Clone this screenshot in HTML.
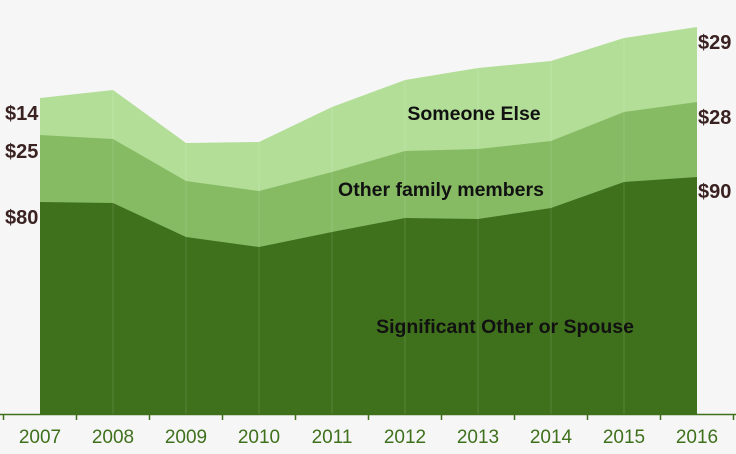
<!DOCTYPE html>
<html><head><style>
body{margin:0;background:#f6f6f6;}
svg{display:block;font-family:"Liberation Sans",sans-serif;}
</style></head><body>
<svg width="736" height="454" viewBox="0 0 736 454">
<rect width="736" height="454" fill="#f6f6f6"/>
<polygon fill="#b3de98" points="40,98 113,90 186,143 259,142 332,107 405,80 478,68 551,61 624,38 697,27 697,414 40,414"/>
<polygon fill="#86bb64" points="40,135 113,139 186,181 259,191 332,172 405,151 478,149 551,141 624,112 697,102 697,414 40,414"/>
<polygon fill="#3f711d" points="40,202 113,203 186,237 259,247 332,232 405,218 478,219 551,208 624,182 697,177 697,414 40,414"/>
<g stroke="#ffffff" stroke-opacity="0.12" stroke-width="1">
<line x1="113" y1="90" x2="113" y2="414"/><line x1="186" y1="143" x2="186" y2="414"/><line x1="259" y1="142" x2="259" y2="414"/><line x1="332" y1="107" x2="332" y2="414"/><line x1="405" y1="80" x2="405" y2="414"/><line x1="478" y1="68" x2="478" y2="414"/><line x1="551" y1="61" x2="551" y2="414"/><line x1="624" y1="38" x2="624" y2="414"/>
</g>
<line x1="0" y1="414.5" x2="736" y2="414.5" stroke="#3f711d" stroke-width="1.5"/>
<g stroke="#3f711d" stroke-width="1.5">
<line x1="3.5" y1="414" x2="3.5" y2="420"/><line x1="76.5" y1="414" x2="76.5" y2="420"/><line x1="149.5" y1="414" x2="149.5" y2="420"/><line x1="222.5" y1="414" x2="222.5" y2="420"/><line x1="295.5" y1="414" x2="295.5" y2="420"/><line x1="368.5" y1="414" x2="368.5" y2="420"/><line x1="441.5" y1="414" x2="441.5" y2="420"/><line x1="514.5" y1="414" x2="514.5" y2="420"/><line x1="587.5" y1="414" x2="587.5" y2="420"/><line x1="660.5" y1="414" x2="660.5" y2="420"/><line x1="733.5" y1="414" x2="733.5" y2="420"/>
</g>
<g fill="#3f711d" font-size="19" text-anchor="middle">
<text x="40" y="443">2007</text><text x="113" y="443">2008</text><text x="186" y="443">2009</text><text x="259" y="443">2010</text><text x="332" y="443">2011</text><text x="405" y="443">2012</text><text x="478" y="443">2013</text><text x="551" y="443">2014</text><text x="624" y="443">2015</text><text x="697" y="443">2016</text>
</g>
<g fill="#3a2222" font-size="20" font-weight="bold">
<text x="5" y="120">$14</text><text x="5" y="158">$25</text><text x="5" y="224">$80</text>
<text x="698" y="49">$29</text><text x="698" y="124">$28</text><text x="698" y="198">$90</text>
</g>
<g fill="#111" font-size="19.5" font-weight="bold" text-anchor="middle">
<text x="474" y="120">Someone Else</text>
<text x="441" y="196">Other family members</text>
<text x="505" y="333">Significant Other or Spouse</text>
</g>
</svg>
</body></html>
